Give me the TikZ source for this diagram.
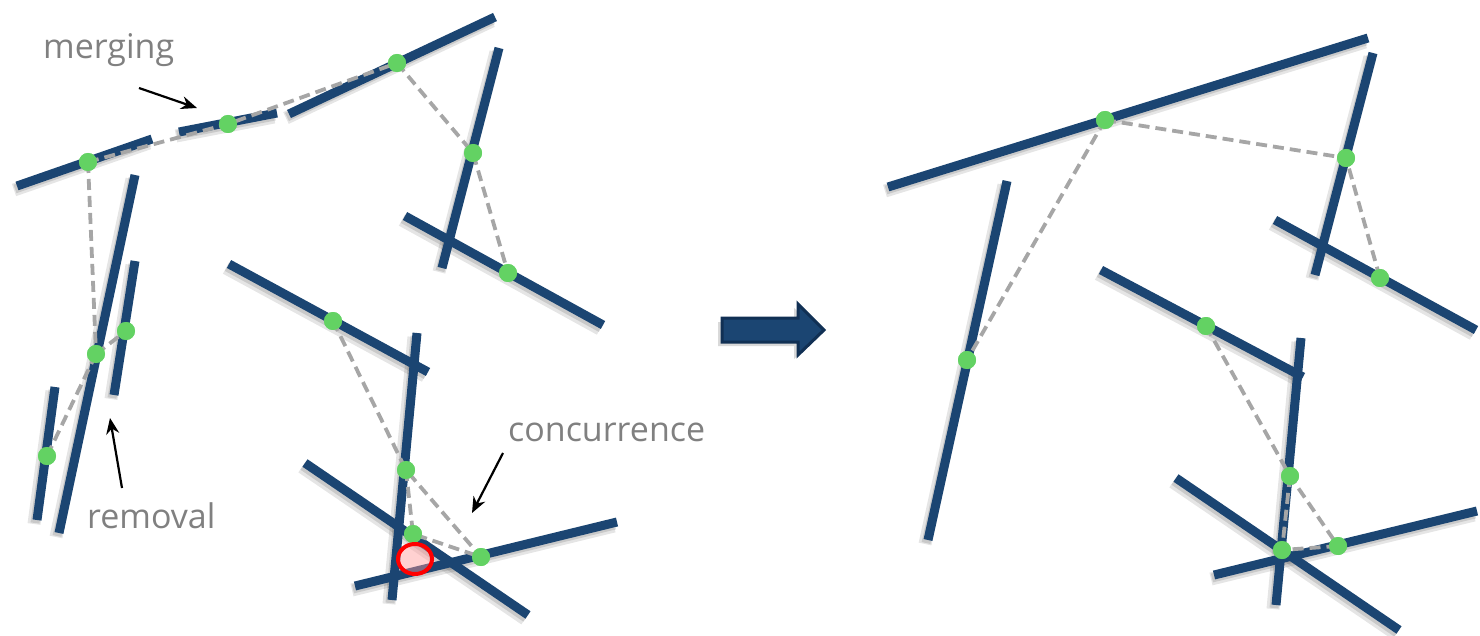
\documentclass[tikz,border=0pt]{standalone}
\usepackage{fontspec}
\setmainfont{Open Sans}
\usetikzlibrary{arrows.meta,shapes.geometric}
\definecolor{navy}{RGB}{27,69,114}
\definecolor{navydark}{RGB}{17,48,84}
\definecolor{dotgreen}{RGB}{99,210,99}
\definecolor{linkgray}{RGB}{166,166,166}
\definecolor{labelgray}{RGB}{128,128,128}
\begin{document}
\begin{tikzpicture}[x=1pt,y=-1pt,
  seg/.style={navy, line width=9pt},
  segshadow/.style={black, opacity=0.10, line width=13pt},
  segshadowin/.style={black, opacity=0.12, line width=9pt},
  link/.style={draw=linkgray, line width=3.8pt, dash pattern=on 11pt off 6pt},
  dot/.style={circle, fill=dotgreen, minimum size=18pt, inner sep=0pt},
  lbl/.style={text=labelgray, font=\fontsize{34}{40}\selectfont, anchor=base west, inner sep=0pt},
  pointer/.style={-{Stealth[length=16pt,width=13pt]}, line width=2.2pt, black}]
\useasboundingbox (0,0) rectangle (1480,636);
% ---------- segment end points (left panel) ----------
\coordinate (A1) at (17,186);  \coordinate (A2) at (152,139);
\coordinate (B1) at (179,132); \coordinate (B2) at (277,113);
\coordinate (C1) at (289,114); \coordinate (C2) at (495,17);
\coordinate (D1) at (499,48);  \coordinate (D2) at (442,268);
\coordinate (E1) at (405,216); \coordinate (E2) at (603,325);
\coordinate (F1) at (229,264); \coordinate (F2) at (428,372);
\coordinate (G1) at (417,333); \coordinate (G2) at (392,600);
\coordinate (H1) at (305,463); \coordinate (H2) at (528,615);
\coordinate (I1) at (355,586); \coordinate (I2) at (617,522);
\coordinate (J1) at (135,175); \coordinate (J2) at (59,533);
\coordinate (K1) at (135,261); \coordinate (K2) at (114,395);
\coordinate (L1) at (55,387);  \coordinate (L2) at (37,520);
% ---------- segment end points (right panel) ----------
\coordinate (P1) at (888,187);  \coordinate (P2) at (1368,38);
\coordinate (Q1) at (1373,53);  \coordinate (Q2) at (1315,275);
\coordinate (R1) at (1275,220); \coordinate (R2) at (1476,330);
\coordinate (S1) at (1007,181); \coordinate (S2) at (928,540);
\coordinate (T1) at (1101,270); \coordinate (T2) at (1303,377);
\coordinate (U1) at (1301,338); \coordinate (U2) at (1276,605);
\coordinate (V1) at (1176,478); \coordinate (V2) at (1399,630);
\coordinate (W1) at (1214,575); \coordinate (W2) at (1477,511);
% ---------- shadows ----------
\foreach \s in {A,B,C,D,E,F,G,H,I,J,K,L,P,Q,R,S,T,U,V,W}{
  \draw[segshadow] ([shift={(-3,4)}]\s1) -- ([shift={(-3,4)}]\s2);
  \draw[segshadowin] ([shift={(-2,3)}]\s1) -- ([shift={(-2,3)}]\s2);}
\fill[black, opacity=0.15] (718,322) -- (794,322) -- (794,308) -- (820,334) -- (794,359) -- (794,346) -- (718,346) -- cycle;
% ---------- segments ----------
\foreach \s in {A,B,C,D,E,F,G,H,I,J,K,L,P,Q,R,S,T,U,V,W}
  \draw[seg] (\s1) -- (\s2);
% ---------- big arrow ----------
\draw[fill=navy, draw=navydark, line width=3pt, line join=miter]
  (722,318) -- (798,318) -- (798,304) -- (824,330) -- (798,355) -- (798,342) -- (722,342) -- cycle;
% ---------- dots (left) ----------
\node[dot] (a) at (88,162) {};
\node[dot] (b) at (228,124) {};
\node[dot] (c) at (397,63) {};
\node[dot] (d) at (473,153) {};
\node[dot] (e) at (508,273) {};
\node[dot] (f) at (333,321) {};
\node[dot] (g) at (406,470) {};
\node[dot] (x) at (413,534) {};
\node[dot] (i) at (481,557) {};
\node[dot] (j) at (96,354) {};
\node[dot] (k) at (126,331) {};
\node[dot] (l) at (47,456) {};
% ---------- dots (right) ----------
\node[dot] (p) at (1105,120) {};
\node[dot] (q) at (1346,158) {};
\node[dot] (r) at (1380,278) {};
\node[dot] (s) at (967,360) {};
\node[dot] (t) at (1206,326) {};
\node[dot] (u) at (1290,476) {};
\node[dot] (w) at (1338,546) {};
\node[dot] (v) at (1282,550) {};
% ---------- dashed links ----------
\draw[link] (a.center) -- (b.center) -- (c.center);
\draw[link] (c.center) -- (d.center) -- (e.center);
\draw[link] (a.center) -- (j.center);
\draw[link] (j.center) -- (k.center);
\draw[link] (j.center) -- (l.center);
\draw[link] (f.center) -- (g.center) -- (i.center);
\draw[link] (g.center) -- (x.center) -- (i.center);
\draw[link] (p.center) -- (q.center) -- (r.center);
\draw[link] (p.center) -- (s.center);
\draw[link] (t.center) -- (u.center) -- (w.center);
\draw[link] (u.center) -- (v.center) -- (w.center);
% dots on top of the links
\foreach \n in {a,b,c,d,e,f,g,x,i,j,k,l,p,q,r,s,t,u,w,v}
  \fill[dotgreen] (\n) circle (9pt);
% ---------- red circle ----------
\node[ellipse, draw=red, line width=4pt, fill=red!40, fill opacity=0.45,
      minimum width=34pt, minimum height=30pt, inner sep=0pt] (rc) at (415,559) {};
% ---------- labels ----------
\node[lbl] (tmerge) at (43,59) {merging};
\node[lbl] (tremove) at (87,528) {removal};
\node[lbl] (tconc) at (508,441) {concurrence};
\coordinate (m0) at (139,88);  \coordinate (m1) at (197,108);
\coordinate (r0) at (122,488); \coordinate (r1) at (110,418);
\coordinate (c0) at (503,453); \coordinate (c1) at (472,513);
\draw[pointer] (m0) -- (m1);
\draw[pointer] (r0) -- (r1);
\draw[pointer] (c0) -- (c1);
\end{tikzpicture}
\end{document}
